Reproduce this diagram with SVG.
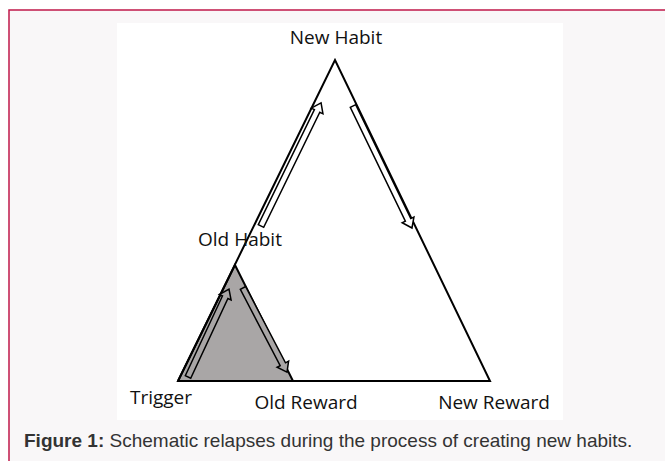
<svg xmlns="http://www.w3.org/2000/svg" width="665" height="461" viewBox="0 0 665 461">
<style>
.lbl{font-family:"Open Sans","DejaVu Sans",sans-serif;font-size:19px;fill:#111}
.cap{font-family:"Liberation Sans",Arial,sans-serif;font-size:19px;fill:#333}
.edge{fill:none;stroke:#000;stroke-width:2}
.arw{stroke:#000;stroke-width:1.5;stroke-linejoin:miter}
</style>
<rect x="0" y="0" width="665" height="461" fill="#fff"/>
<rect x="9" y="10" width="670" height="470" fill="#f9f7f8" stroke="#c0184a" stroke-width="1.5"/>
<rect x="117" y="23" width="446" height="397" fill="#fff"/>
<g id="small-triangle">
<polygon points="178,381 235,265 293,381" fill="#a9a6a6" stroke="#000" stroke-width="2"/>
</g>
<g id="connectors">
<polyline class="edge" points="178,381 335,60 490,381 178,381"/>
<path class="arw" fill="#fff" transform="translate(261,226) rotate(-64)" d="M0,-3 L128,-3 L128,-6.5 L137,0 L128,6.5 L128,3 L0,3 Z"/>
<path class="arw" fill="#fff" transform="translate(353,106) rotate(64.2)" d="M0,-3 L126.5,-3 L126.5,-6.5 L135.5,0 L126.5,6.5 L126.5,3 L0,3 Z"/>
<path class="arw" fill="#a9a6a6" transform="translate(188,377) rotate(-65)" d="M0,-3 L88,-3 L88,-6.5 L97,0 L88,6.5 L88,3 L0,3 Z"/>
<path class="arw" fill="#a9a6a6" transform="translate(243,288) rotate(62.4)" d="M0,-3 L86,-3 L86,-6.5 L95,0 L86,6.5 L86,3 L0,3 Z"/>
</g>
<g id="new-habit"><text class="lbl" x="336" y="44" text-anchor="middle">New Habit</text></g>
<g id="old-habit"><text class="lbl" x="240" y="246" text-anchor="middle">Old Habit</text></g>
<g id="trigger"><text class="lbl" x="161" y="404" text-anchor="middle">Trigger</text></g>
<g id="old-reward"><text class="lbl" x="306" y="409" text-anchor="middle">Old Reward</text></g>
<g id="new-reward"><text class="lbl" x="494" y="409" text-anchor="middle">New Reward</text></g>
<text class="cap" x="24" y="447"><tspan font-weight="bold">Figure 1:</tspan> Schematic relapses during the process of creating new habits.</text>
</svg>
